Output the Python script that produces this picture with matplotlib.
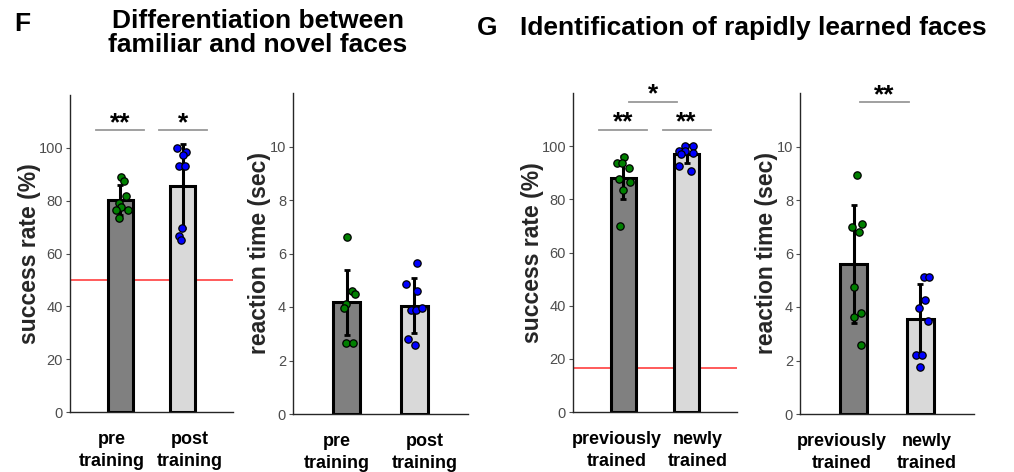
import matplotlib
matplotlib.use('Agg')
import matplotlib.pyplot as plt
import numpy as np

plt.rcParams['font.family'] = ['Liberation Sans', 'DejaVu Sans']

# ---------------- data ----------------
categories_F = ['pre\ntraining', 'post\ntraining']
categories_G = ['previously\ntrained', 'newly\ntrained']

# F: success rate (%)
F_success_mean = [80.3, 85.5]
F_success_sd = [5.7, 15.8]
F_success_pre = [89.1, 87.6, 81.9, 79.1, 77.7, 76.4, 76.3, 73.6]
F_success_post = [99.9, 98.6, 97.2, 93.0, 93.0, 69.5, 66.7, 65.1]
F_success_pre_jit = [0.008, 0.056, 0.088, -0.019, 0.013, -0.061, 0.12, -0.013]
F_success_post_jit = [-0.093, 0.056, 0.003, -0.056, 0.035, -0.008, -0.067, -0.035]

# F: reaction time (sec)
F_rt_mean = [4.17, 4.05]
F_rt_sd = [1.23, 1.03]
F_rt_pre = [6.62, 4.59, 4.48, 4.13, 3.95, 2.67, 2.67]
F_rt_post = [5.65, 4.87, 4.59, 3.90, 3.90, 3.97, 2.79, 2.58]
F_rt_pre_jit = [-0.005, 0.07, 0.115, -0.02, -0.035, -0.01, 0.095]
F_rt_post_jit = [0.035, -0.12, 0.04, -0.05, 0.03, 0.11, -0.085, 0.015]

# G: success rate (%)
G_success_mean = [88.2, 96.9]
G_success_sd = [8.0, 3.4]
G_success_prev = [95.8, 93.7, 93.7, 91.7, 87.5, 86.5, 83.4, 69.8]
G_success_new = [100.0, 100.0, 98.0, 98.0, 97.6, 96.9, 92.7, 90.7]
G_success_prev_jit = [0.003, -0.109, -0.029, 0.093, -0.077, 0.099, -0.003, -0.061]
G_success_new_jit = [-0.019, 0.109, -0.125, -0.019, 0.109, -0.083, -0.12, 0.067]

# G: reaction time (sec)
G_rt_mean = [5.6, 3.55]
G_rt_sd = [2.2, 1.31]
G_rt_prev = [8.92, 6.98, 7.11, 6.81, 4.74, 3.77, 3.64, 2.57]
G_rt_new = [5.13, 5.13, 4.26, 3.97, 3.49, 2.21, 2.21, 1.75]
G_rt_prev_jit = [0.045, -0.03, 0.12, 0.085, 0.005, 0.105, 0.0, 0.115]
G_rt_new_jit = [0.053, 0.128, 0.063, -0.028, 0.118, -0.068, 0.018, -0.003]

chance_F = 50
chance_G = 100 / 6

# significance: (x0, x1, y, label)
sig_F_success = [(0.62, 1.38, 106.6, '**'), (1.62, 2.38, 106.6, '*')]
sig_G_success = [(0.62, 1.38, 106.2, '**'), (1.62, 2.38, 106.2, '**'),
                 (1.08, 1.85, 116.7, '*')]
sig_G_rt = [(1.10, 1.83, 11.65, '**')]

# ---------------- figure ----------------
W, H = 1014, 472
fig = plt.figure(figsize=(W / 100, H / 100), dpi=100)

def px_axes(x0, y0, x1, y1):
    return fig.add_axes([x0 / W, (H - y1) / H, (x1 - x0) / W, (y1 - y0) / H])

bar_colors = ['#808080', '#d9d9d9']
dot_colors = ['#008000', '#0000ff']
tick_col = '#4d4d4d'


def panel(ax, means, sds, groups, jits, cats, ymax, yticks, ylabel,
          chance=None, sigs=(), lab_dx=(-9, 9), labelpad=0):
    x = np.arange(1, 3)
    ax.bar(x, means, width=0.4, color=bar_colors, edgecolor='black',
           linewidth=2.2, zorder=2)
    ax.errorbar(x, means, yerr=sds, fmt='none', ecolor='black',
                elinewidth=2.2, capsize=2, capthick=2, zorder=3)
    for i, (vals, jit) in enumerate(zip(groups, jits)):
        ax.scatter(x[i] + np.array(jit), vals, s=28, c=dot_colors[i],
                   edgecolors='black', linewidths=0.9, zorder=4)
    if chance is not None:
        ax.axhline(chance, color='#ff4d4d', linewidth=1.3, zorder=1)
    for (x0, x1, y, lab) in sigs:
        ax.plot([x0, x1], [y, y], color='#999999', linewidth=1.3,
                clip_on=False, zorder=1)
        ax.text((x0 + x1) / 2, y, lab, ha='center', va='baseline',
                fontsize=19, fontweight='bold', clip_on=False)
    ax.set_xlim(0.2, 2.8)
    ax.set_ylim(0, ymax)
    ax.set_yticks(yticks)
    ax.set_xticks(x)
    ax.set_xticklabels([])
    for xi, cat, dx in zip(x, cats, lab_dx):
        ax.annotate(cat, xy=(xi, 0), xycoords=('data', 'axes fraction'),
                    xytext=(dx * 0.72, -14), textcoords='offset points',
                    ha='center', va='top', fontsize=13, fontweight='bold',
                    linespacing=1.35, annotation_clip=False)
    ax.tick_params(axis='x', length=0)
    ax.tick_params(axis='y', labelsize=10.5, colors=tick_col, length=3,
                   width=0.8, pad=2)
    for s in ['top', 'right']:
        ax.spines[s].set_visible(False)
    for s in ['left', 'bottom']:
        ax.spines[s].set_color('#262626')
        ax.spines[s].set_linewidth(1.0)
    ax.set_ylabel(ylabel, fontsize=16.5, fontweight='bold', color='#262626',
                  labelpad=labelpad)


axF1 = px_axes(70, 95, 233, 412)
panel(axF1, F_success_mean, F_success_sd, [F_success_pre, F_success_post],
      [F_success_pre_jit, F_success_post_jit], categories_F, 120,
      range(0, 101, 20), 'success rate (%)', chance_F, sig_F_success,
      lab_dx=(-8, 7), labelpad=-2)

axF2 = px_axes(293, 93, 468, 414)
panel(axF2, F_rt_mean, F_rt_sd, [F_rt_pre, F_rt_post],
      [F_rt_pre_jit, F_rt_post_jit], categories_F, 12,
      range(0, 11, 2), 'reaction time (sec)', lab_dx=(-10, 11), labelpad=-1)

axG1 = px_axes(573, 93, 737, 412)
panel(axG1, G_success_mean, G_success_sd, [G_success_prev, G_success_new],
      [G_success_prev_jit, G_success_new_jit], categories_G, 120,
      range(0, 101, 20), 'success rate (%)', chance_G, sig_G_success,
      lab_dx=(-7, 11), labelpad=-2)

axG2 = px_axes(800, 93, 974, 414)
panel(axG2, G_rt_mean, G_rt_sd, [G_rt_prev, G_rt_new],
      [G_rt_prev_jit, G_rt_new_jit], categories_G, 12,
      range(0, 11, 2), 'reaction time (sec)', None, sig_G_rt,
      lab_dx=(-12, 6), labelpad=-1)

# titles
fig.text(22 / W, 1 - 24 / H, 'F', fontsize=19, fontweight='bold',
         ha='center', va='center')
fig.text(258 / W, 1 - 33 / H, 'Differentiation between\nfamiliar and novel faces',
         fontsize=19, fontweight='bold', ha='center', va='center',
         linespacing=0.95)
fig.text(487 / W, 1 - 28 / H, 'G', fontsize=19, fontweight='bold',
         ha='center', va='center')
fig.text(520 / W, 1 - 28 / H, 'Identification of rapidly learned faces',
         fontsize=19, fontweight='bold', ha='left', va='center')

fig.savefig('out.png', dpi=100)
